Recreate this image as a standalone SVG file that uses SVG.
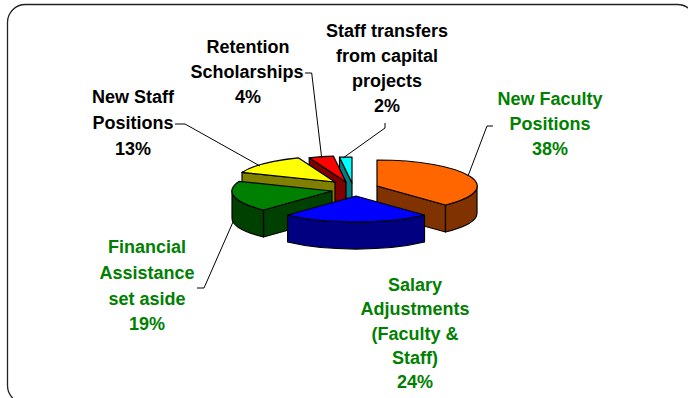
<svg xmlns="http://www.w3.org/2000/svg" width="688" height="398" viewBox="0 0 688 398">
<style>
.lbl{font-family:"Liberation Sans",Arial,sans-serif;font-weight:bold;font-size:18px;text-anchor:middle}
.blk{fill:#000}
.grn{fill:#008000}
.f{stroke:#000;stroke-width:1.2;stroke-linejoin:round}
.lead{fill:none;stroke:#000;stroke-width:1}
</style>
<rect x="7.5" y="4.5" width="688" height="399" rx="18" ry="18" fill="#fff" stroke="#222" stroke-width="1.3"/>
<g id="slice-staff-transfers">
<path class="f" fill="#008080" d="M352,183 L339.5,157.2 L339.5,184.2 L352,210 Z"/>
<path class="f" fill="#00FFFF" d="M352,183 L339.5,157.2 A100,26 0 0,1 352,157 Z"/>
</g>
<g id="slice-retention">
<path class="f" fill="#800000" d="M346,182 L309.2,157.8 L309.2,184.8 L346,209 Z"/>
<path class="f" fill="#FF0000" d="M346,182 L309.2,157.8 A100,26 0 0,1 333.5,156.2 Z"/>
</g>
<g id="slice-new-staff">
<path class="f" fill="#808000" d="M335,182 L242,172.4 L242,199.4 L335,209 Z"/>
<path class="f" fill="#FFFF00" d="M335,182 L242,172.4 A100,26 0 0,1 298.2,157.8 Z"/>
</g>
<g id="slice-new-faculty">
<path class="f" fill="#803300" d="M377,186 L445.5,205 L445.5,232 L377,213 Z"/>
<path class="f" fill="#803300" d="M477,186 A100,26 0 0,1 445.5,205 L445.5,232 A100,26 0 0,0 477,213 Z"/>
<path class="f" fill="#FF6600" d="M377,186 L377,160 A100,26 0 0,1 445.5,205 Z"/>
</g>
<g id="slice-financial">
<path class="f" fill="#004000" d="M332,191 L263.5,210 L263.5,237 L332,218 Z"/>
<path class="f" fill="#004000" d="M263.5,210 A100,26 0 0,1 232,191 L232,218 A100,26 0 0,0 263.5,237 Z"/>
<path class="f" fill="#008000" d="M332,191 L263.5,210 A100,26 0 0,1 239,181.4 Z"/>
</g>
<g id="slice-salary">
<path class="f" fill="#000080" d="M424.5,215 A100,26 0 0,1 287.6,215 L287.6,242 A100,26 0 0,0 424.5,242 Z"/>
<path class="f" fill="#0000FF" d="M356,196 L424.5,215 A100,26 0 0,1 287.6,215 Z"/>
</g>
<g id="connectors">
<path class="lead" d="M493,126 L487,126 L468,176"/>
<path class="lead" d="M197,288 L204,288 L233,222"/>
<path class="lead" d="M175,124 L185,124 L260,166"/>
<path class="lead" d="M305,73 L311.7,73 L321.7,158"/>
<path class="lead" d="M385,123 L385,128 L343,158"/>
</g>
<g id="label-new-faculty" class="lbl grn">
<text x="550" y="105">New Faculty</text>
<text x="550" y="130">Positions</text>
<text x="550" y="155">38%</text>
</g>
<g id="label-salary" class="lbl grn">
<text x="415" y="291">Salary</text>
<text x="415" y="315">Adjustments</text>
<text x="415" y="340">(Faculty &amp;</text>
<text x="415" y="364">Staff)</text>
<text x="415" y="388">24%</text>
</g>
<g id="label-financial" class="lbl grn">
<text x="147" y="253">Financial</text>
<text x="147" y="279">Assistance</text>
<text x="147" y="305">set aside</text>
<text x="147" y="330">19%</text>
</g>
<g id="label-new-staff" class="lbl blk">
<text x="133" y="103">New Staff</text>
<text x="133" y="129">Positions</text>
<text x="133" y="155">13%</text>
</g>
<g id="label-retention" class="lbl blk">
<text x="248" y="53">Retention</text>
<text x="247" y="78">Scholarships</text>
<text x="248" y="103">4%</text>
</g>
<g id="label-staff-transfers" class="lbl blk">
<text x="387" y="37">Staff transfers</text>
<text x="387" y="62">from capital</text>
<text x="387" y="87">projects</text>
<text x="387" y="112">2%</text>
</g>
</svg>
